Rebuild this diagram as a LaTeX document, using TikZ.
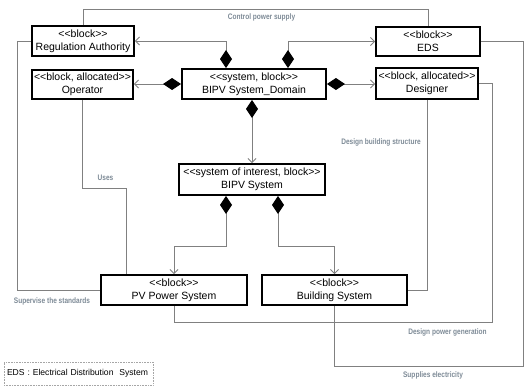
\documentclass[tikz,border=0pt]{standalone}
\usepackage{fontspec}
\setmainfont{Liberation Sans}
\newfontfamily\lblfont[FakeStretch=0.82]{Liberation Sans}
\usetikzlibrary{arrows.meta}
\definecolor{linegray}{RGB}{128,128,128}
\definecolor{lblcol}{RGB}{125,138,150}
\newcommand{\lgl}{<\kern0pt<}
\newcommand{\rgr}{>\kern0pt>}
\begin{document}
\begin{tikzpicture}[x=1pt,y=-1pt,
  blk/.style={draw=black, line width=1.9pt, fill=white, align=center,
    font=\fontsize{10.5}{13}\selectfont, inner sep=0pt},
  conn/.style={draw=linegray, line width=0.9pt},
  comp/.style={conn, {Diamond[length=18pt,width=12pt,color=black,fill=black]}-{Straight Barb[length=4pt,width=8pt]}},
  lbl/.style={text=lblcol, font=\lblfont\bfseries\fontsize{8}{9}\selectfont, inner sep=0pt}
]
\useasboundingbox (0,0) rectangle (526,386);

\node[blk, minimum width=102pt, minimum height=30pt] (ra) at (83,41) {\lgl block\rgr\\Regulation Authority};
\node[blk, minimum width=101pt, minimum height=29pt] (op) at (82.5,84.5) {\lgl block, allocated\rgr\\Operator};
\node[blk, minimum width=144pt, minimum height=30pt] (dom) at (254,84) {\lgl system, block\rgr\\BIPV System\_Domain};
\node[blk, minimum width=104pt, minimum height=29pt] (eds) at (428,41.5) {\lgl block\rgr\\EDS};
\node[blk, minimum width=102pt, minimum height=31pt] (des) at (427,83.5) {\lgl block, allocated\rgr\\Designer};
\node[blk, minimum width=146pt, minimum height=31pt] (bipv) at (252,179.5) {\lgl system of interest, block\rgr\\BIPV System};
\node[blk, minimum width=146pt, minimum height=30pt] (pv) at (174,290) {\lgl block\rgr\\PV Power System};
\node[blk, minimum width=145pt, minimum height=30pt] (bs) at (334.5,290) {\lgl block\rgr\\Building System};

\node[draw=gray!70, densely dotted, line width=0.6pt, minimum width=149pt, minimum height=23pt,
  text width=143pt, align=left, inner sep=3pt, font=\fontsize{8.6}{10}\selectfont] (leg) at (78.5,373.5)
  {EDS : Electrical Distribution\ \ System};

% coordinates for bends
\coordinate (c1) at (226,41);
\coordinate (c3) at (288,42);
\coordinate (c6) at (226,246);
\coordinate (c7) at (278,246);
\coordinate (k1) at (83,9);
\coordinate (k2) at (17,290);
\coordinate (k3) at (126,188);
\coordinate (k5) at (492,322);
\coordinate (k6) at (523,366);

% composition connectors
\draw[comp] (dom.north -| c1) |- (ra.east);
\draw[comp] (dom.west) -- (dom.west -| op.east);
\draw[comp] (dom.north -| c3) |- (eds.west);
\draw[comp] (dom.east) -- (dom.east -| des.west);
\draw[comp] (dom.south -| bipv.north) -- (bipv.north);
\draw[comp] (bipv.south -| c6) -- (c6) -| (pv.north);
\draw[comp] (bipv.south -| c7) -- (c7) -| (bs.north);

% plain connectors
\draw[conn] (ra.north) -- (k1) -| (eds.north);
\draw[conn] (ra.west) -| (k2) -- (pv.west);
\draw[conn] (op.south) |- (k3) -- (k3 |- pv.north);
\draw[conn] (des.south) |- (bs.east);
\draw[conn] (des.east) -| (k5) -| (pv.south);
\draw[conn] (eds.east) -| (k6) -| (bs.south);

% labels
\node[lbl] (l1) at (261.5,17) {Control power supply};
\node[lbl] (l2) at (105.5,178) {Uses};
\node[lbl] (l3) at (381,142) {Design building structure};
\node[lbl] (l4) at (52,301) {Supervise the standards};
\node[lbl] (l5) at (447.5,332) {Design power generation};
\node[lbl] (l6) at (433,375) {Supplies electricity};
\end{tikzpicture}
\end{document}
